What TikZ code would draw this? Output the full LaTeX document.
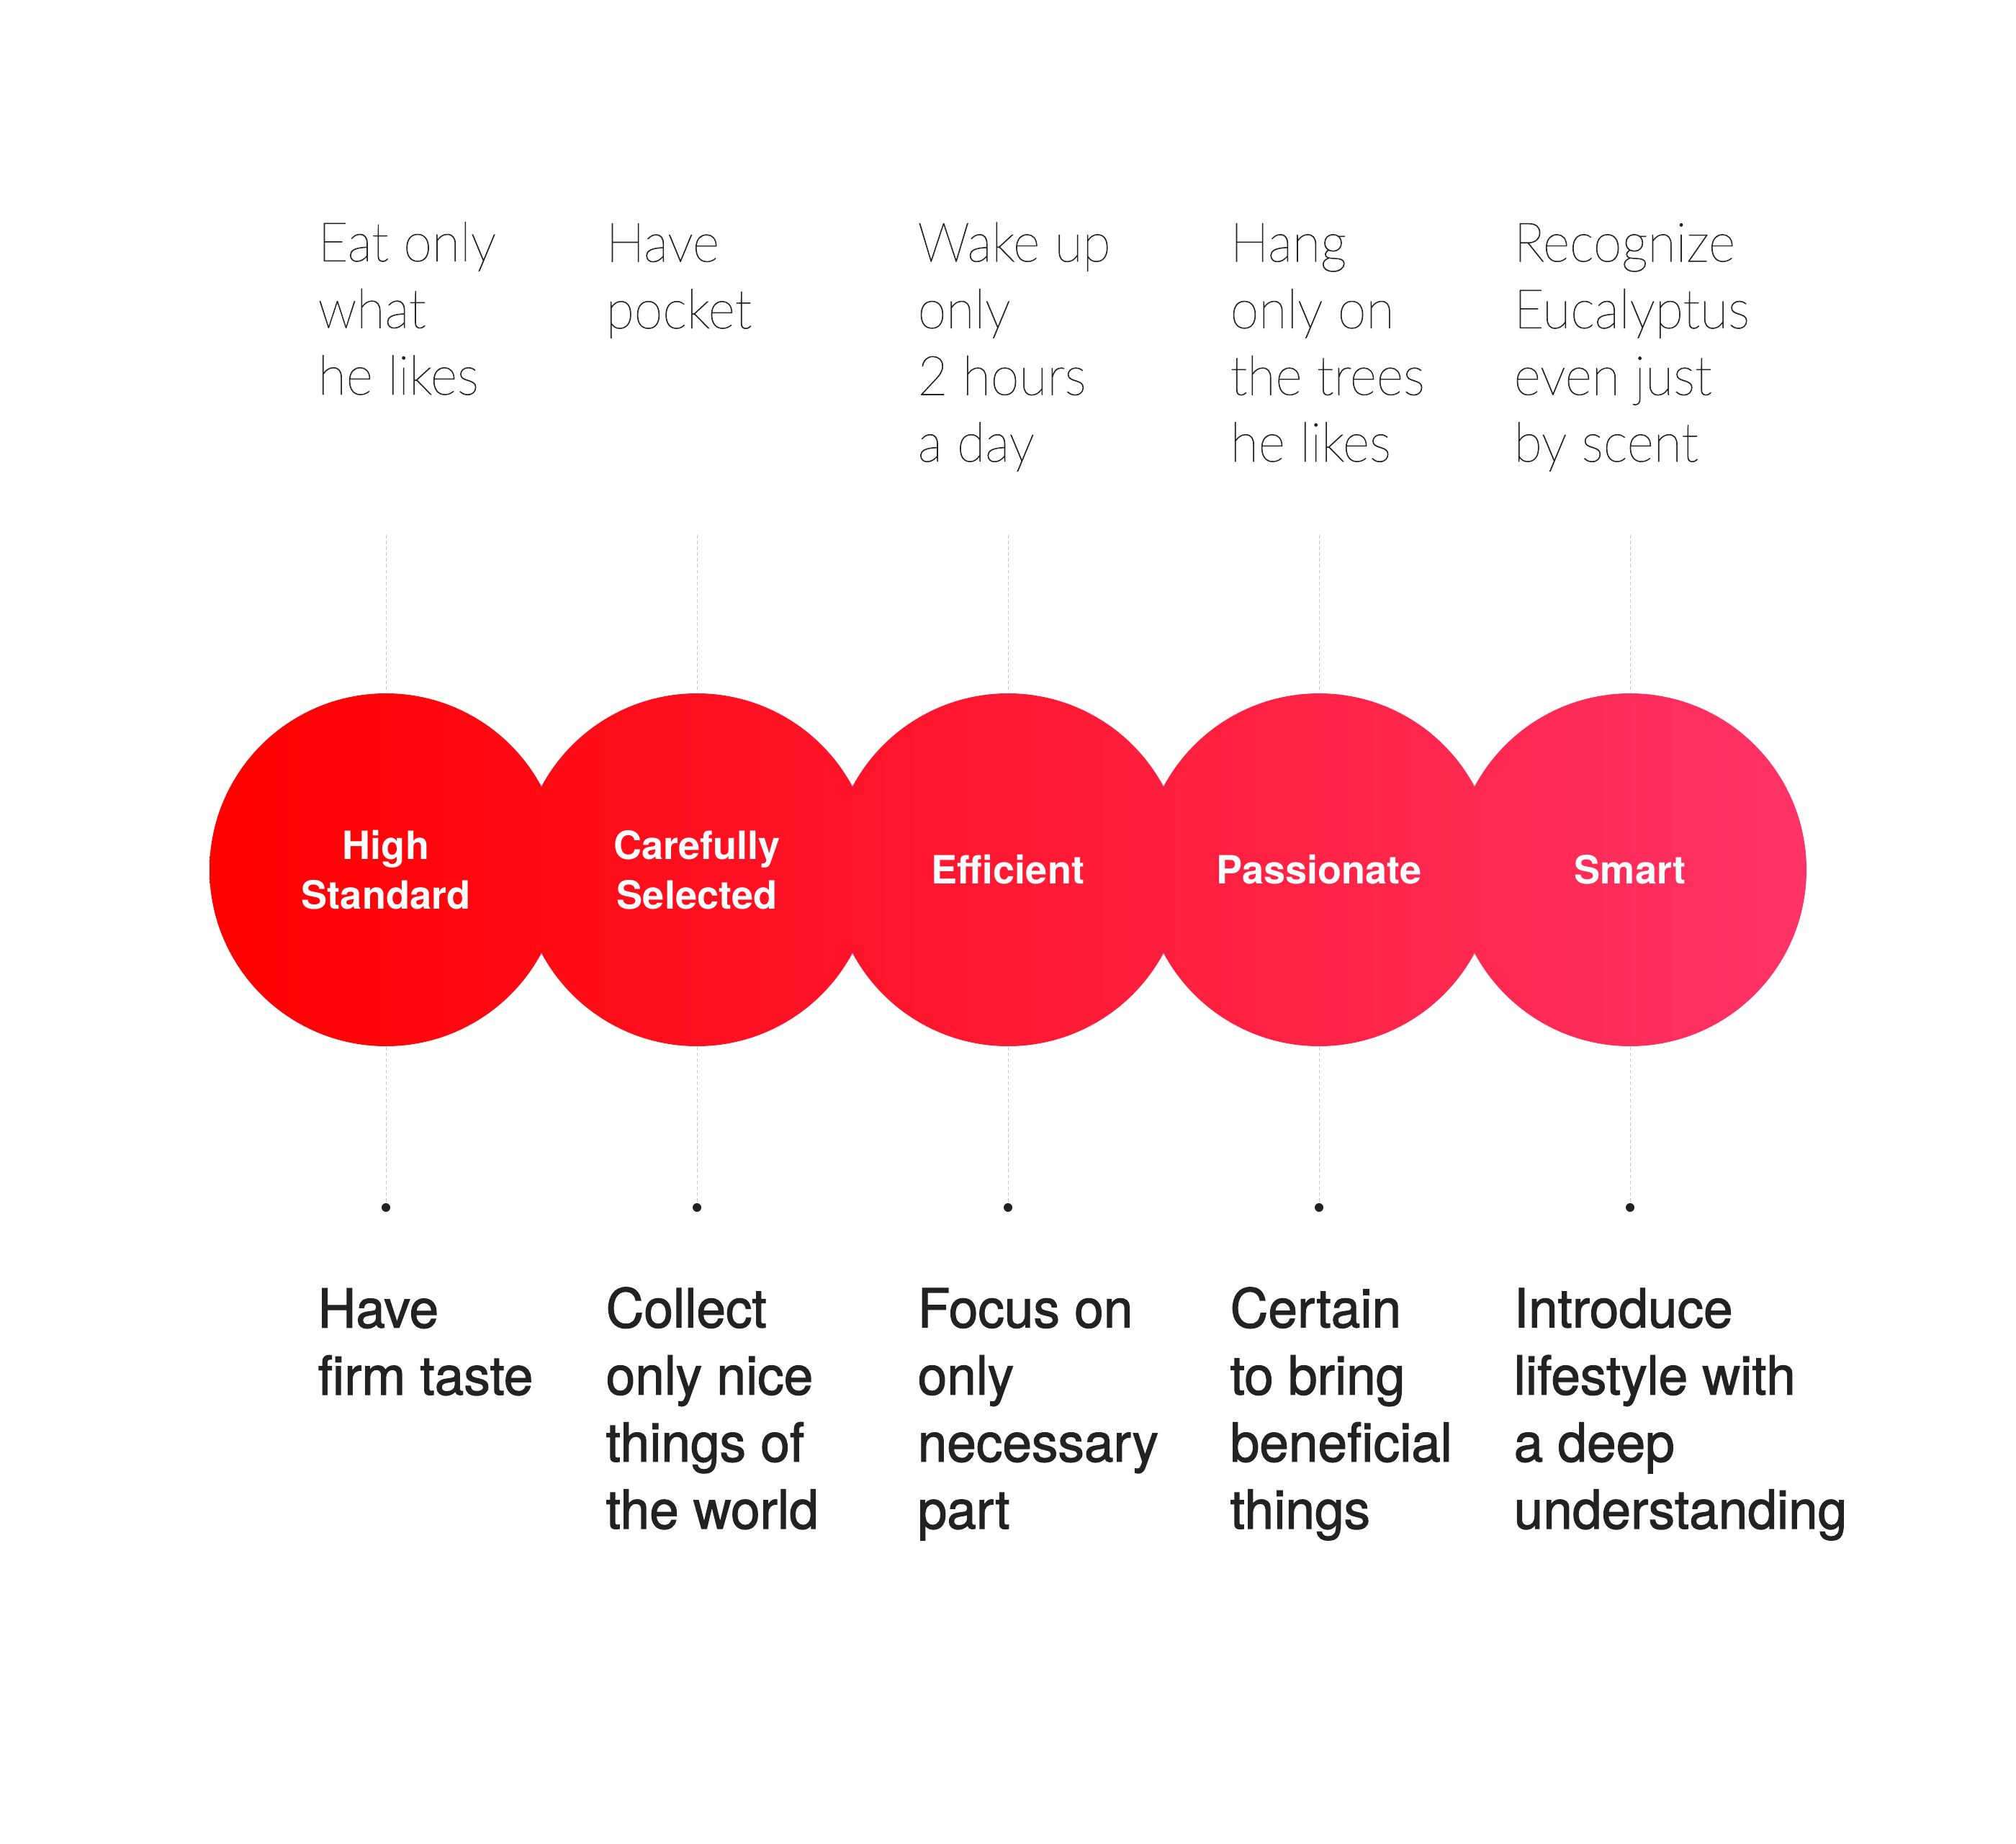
\documentclass[tikz,border=0pt]{standalone}
\usepackage{fontspec}
\setmainfont{TeX Gyre Heros}
\newfontfamily\thinfont{Lato}[UprightFont={* Thin}, FakeBold=1, FakeStretch=0.95]
\newfontfamily\midfont{TeX Gyre Heros}[FakeBold=1.5, FakeStretch=0.975]
\usetikzlibrary{positioning}

\definecolor{koalared}{HTML}{FF0000}
\definecolor{koalapink}{HTML}{FF3366}
\definecolor{inkdark}{HTML}{222222}
\definecolor{guidegray}{HTML}{C8C8C8}

\begin{document}
\begin{tikzpicture}[node distance=4.32cm,
  blob/.style={circle, inner sep=0pt, minimum size=4.9cm, text=white, align=center, font=\bfseries\fontsize{15.4}{19.6}\selectfont},
  toptext/.style={anchor=base west, align=left, inner sep=0pt, text=inkdark, font=\thinfont\fontsize{21.5}{26.35}\selectfont},
  bottext/.style={anchor=base west, align=left, inner sep=0pt, text=inkdark, font=\midfont\fontsize{21.3}{26.5}\selectfont},
  guide/.style={draw=guidegray, line width=0.28pt, dash pattern=on 1.4pt off 0.9pt},
  pin/.style={circle, fill=inkdark, inner sep=0pt, minimum size=0.12cm}]

  \useasboundingbox (0,0) rectangle (28,-25.61);

  % Circles
  \node[blob, left color=koalapink!0!koalared, right color=koalapink!22!koalared] (C1) at (5.36,-12.08) {High\\Standard};
  \node[blob, right of=C1, left color=koalapink!19!koalared, right color=koalapink!42!koalared] (C2) {Carefully\\Selected};
  \node[blob, right of=C2, left color=koalapink!39!koalared, right color=koalapink!61!koalared] (C3) {Efficient};
  \node[blob, right of=C3, left color=koalapink!58!koalared, right color=koalapink!81!koalared] (C4) {Passionate};
  \node[blob, right of=C4, left color=koalapink!78!koalared, right color=koalapink!100!koalared] (C5) {Smart};

  % Guide ends
  \node[coordinate, above of=C1, node distance=4.65cm] (G1) {};
  \node[coordinate, above of=C2, node distance=4.65cm] (G2) {};
  \node[coordinate, above of=C3, node distance=4.65cm] (G3) {};
  \node[coordinate, above of=C4, node distance=4.65cm] (G4) {};
  \node[coordinate, above of=C5, node distance=4.65cm] (G5) {};
  \node[pin, below of=C1, node distance=4.69cm] (P1) {};
  \node[pin, below of=C2, node distance=4.69cm] (P2) {};
  \node[pin, below of=C3, node distance=4.69cm] (P3) {};
  \node[pin, below of=C4, node distance=4.69cm] (P4) {};
  \node[pin, below of=C5, node distance=4.69cm] (P5) {};

  % Dashed guides
  \draw[guide] (G1) -- (C1.north);
  \draw[guide] (G2) -- (C2.north);
  \draw[guide] (G3) -- (C3.north);
  \draw[guide] (G4) -- (C4.north);
  \draw[guide] (G5) -- (C5.north);
  \draw[guide] (C1.south) -- (P1);
  \draw[guide] (C2.south) -- (P2);
  \draw[guide] (C3.south) -- (P3);
  \draw[guide] (C4.south) -- (P4);
  \draw[guide] (C5.south) -- (P5);

  % Top texts (anchored at last baseline)
  \node[toptext] (T1) at (4.41,-5.48) {Eat only\\what\\he likes};
  \node[toptext] (T2) at (8.41,-4.56) {Have\\pocket};
  \node[toptext] (T3) at (12.74,-6.41) {Wake up\\only\\2 hours\\a day};
  \node[toptext] (T4) at (17.08,-6.41) {Hang\\only on\\the trees\\he likes};
  \node[toptext] (T5) at (21.02,-6.41) {Recognize\\Eucalyptus\\even just\\by scent};

  % Bottom texts (anchored at last baseline)
  \node[bottext] (B1) at (4.41,-19.37) {Have\\firm taste};
  \node[bottext] (B2) at (8.41,-21.23) {Collect\\only nice\\things of\\the world};
  \node[bottext] (B3) at (12.74,-21.23) {Focus on\\only\\necessary\\part};
  \node[bottext] (B4) at (17.08,-21.23) {Certain\\to bring\\beneficial\\things};
  \node[bottext] (B5) at (21.02,-21.23) {Introduce\\lifestyle with\\a deep\\understanding};

\end{tikzpicture}
\end{document}
